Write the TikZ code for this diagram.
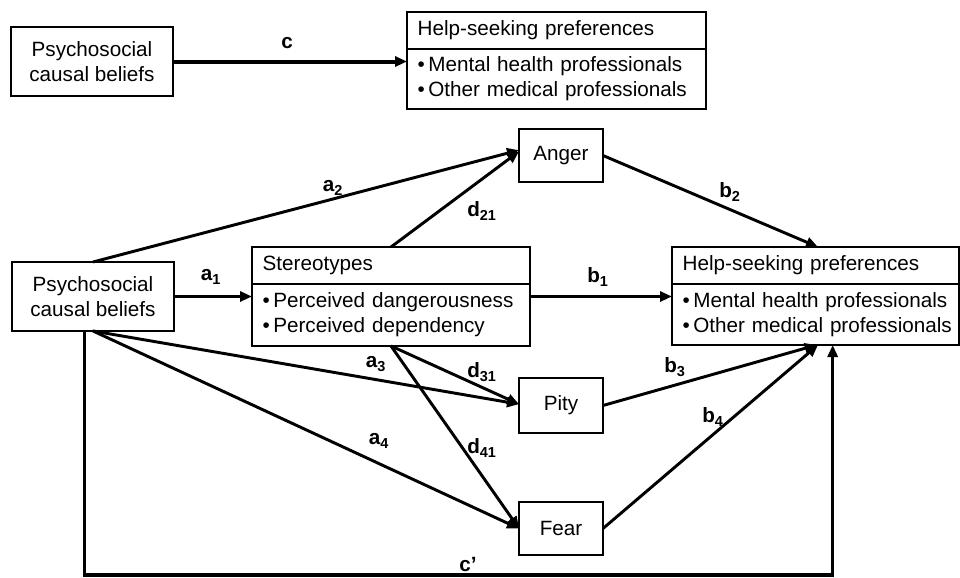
\documentclass[tikz,border=0pt]{standalone}
\usepackage{fontspec}
\setmainfont{Liberation Sans}
\usetikzlibrary{arrows.meta,positioning,calc}

\newcommand{\bul}[1]{\mbox{\textbullet\,#1}}
\newcommand{\coefl}[2]{\textbf{#1\textsubscript{#2}}}

\tikzset{
  box/.style={draw, line width=1.4pt, inner sep=0pt, outer sep=0pt, align=center},
  headbox/.style={box, anchor=north west, align=left, inner xsep=8pt},
  path/.style={line width=2.2pt, -{Triangle[length=9pt,width=7.5pt]}},
  coef/.style={font=\fontsize{15.5}{18.75}\selectfont\bfseries}
}

\begin{document}
\begin{tikzpicture}[x=0.75pt,y=-0.75pt,font=\fontsize{15.5}{18.75}\selectfont]
\useasboundingbox (0,0) rectangle (960,578);

% total effect
\node[box, minimum width=121.5pt, minimum height=52pt] (psytop) at (92,61.5) {Psychosocial\\causal beliefs};
\node[headbox, text width=208.25pt, minimum height=27.75pt] (helptop) at (407,12) {Help-seeking preferences};
\node[headbox, text width=208.25pt, minimum height=45pt, below=0pt of helptop] (helptop-list)
   {\bul{Mental health professionals}\\\bul{Other medical professionals}};
\draw[path, line width=3pt] (psytop.east) -- (psytop.east -| helptop-list.west);
\node[coef] (c) at (287,43) {c};

% mediation model
\node[box, minimum width=121.5pt, minimum height=51.75pt] (psy) at (93,296.5) {Psychosocial\\causal beliefs};
\node[headbox, text width=192.5pt, minimum height=27.75pt] (stereo) at (252,247) {Stereotypes};
\node[headbox, text width=192.5pt, minimum height=46.5pt, below=0pt of stereo] (stereo-list)
   {\bul{Perceived dangerousness}\\\bul{Perceived dependency}};
\node[headbox, text width=199pt, minimum height=27.75pt] (help) at (672,247) {Help-seeking preferences};
\node[headbox, text width=199pt, minimum height=45.75pt, below=0pt of help] (help-list)
   {\bul{Mental health professionals}\\\bul{Other medical professionals}};

\node[box, minimum width=63pt, minimum height=40pt] (anger) at (561,155.5) {Anger};
\node[box, minimum width=63pt, minimum height=41pt] (pity) at (561,405.5) {Pity};
\node[box, minimum width=63pt, minimum height=40pt] (fear) at (561,528.5) {Fear};

\draw[path] (psy.east) -- (psy.east -| stereo-list.west);
\draw[path] (psy.north) -- ([yshift=4pt]anger.west);
\draw[path] (psy.south) -- ([yshift=1pt]pity.west);
\draw[path] (psy.south) -- (fear.west);
\draw[path] (stereo.north) -- ([yshift=3pt]anger.west);
\draw[path] (stereo-list.south) -- ([yshift=1pt]pity.west);
\draw[path] (stereo-list.south) -- (fear.west);
\draw[path] (stereo-list.east |- psy.east) -- (help-list.west |- psy.east);
\draw[path] (anger.east) -- ([xshift=2pt]help.north);
\draw[path] (pity.east) -- ([xshift=1pt]help-list.south);
\draw[path] (fear.east) -- ([xshift=2pt]help-list.south);
\draw[path, line width=2.6pt] ([xshift=-6.4pt]psy.south) -- ++(0,244) -| ([xshift=13pt]help-list.south);

\node[coef] (a1) at (211,277) {\coefl{a}{1}};
\node[coef] (a2) at (333,188) {\coefl{a}{2}};
\node[coef] (a3) at (376,364) {\coefl{a}{3}};
\node[coef] (a4) at (379,441) {\coefl{a}{4}};
\node[coef] (b1) at (598,277) {\coefl{b}{1}};
\node[coef] (b2) at (730,192) {\coefl{b}{2}};
\node[coef] (b3) at (675,367) {\coefl{b}{3}};
\node[coef] (b4) at (713,417) {\coefl{b}{4}};
\node[coef] (d21) at (482,211) {\coefl{d}{21}};
\node[coef] (d31) at (482,372) {\coefl{d}{31}};
\node[coef] (d41) at (482,448) {\coefl{d}{41}};
\node[coef] (cp) at (468,564) {c’};
\end{tikzpicture}
\end{document}
